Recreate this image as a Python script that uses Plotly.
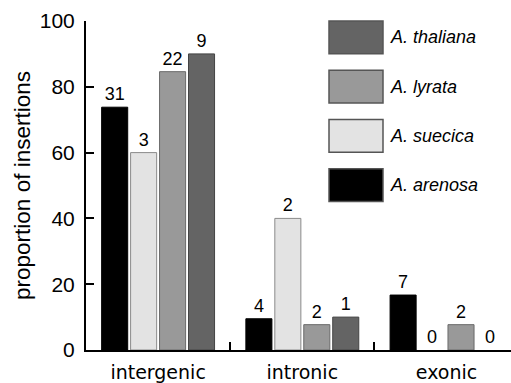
import plotly.graph_objects as go

categories = ["intergenic", "intronic", "exonic"]
species = ["A. arenosa", "A. suecica", "A. lyrata", "A. thaliana"]
# proportion of insertions (%) per species, per category
arenosa = [73.8, 9.5, 16.7]
suecica = [60.0, 40.0, 0.0]
lyrata = [84.6, 7.7, 7.7]
thaliana = [90.0, 10.0, 0.0]
# number of insertions (labels above bars)
arenosa_n = [31, 4, 7]
suecica_n = [3, 2, 0]
lyrata_n = [22, 2, 2]
thaliana_n = [9, 1, 0]
y_ticks = [0, 20, 40, 60, 80, 100]

values = [arenosa, suecica, lyrata, thaliana]
counts = [arenosa_n, suecica_n, lyrata_n, thaliana_n]
fills = ["#000000", "#e3e3e3", "#999999", "#646464"]
edges = ["#000000", "#8a8a8a", "#6a6a6a", "#444444"]

fig = go.Figure()
for name, v, n, fc, ec in zip(species, values, counts, fills, edges):
    fig.add_trace(go.Bar(
        x=categories, y=v, name=name,
        marker=dict(color=fc, line=dict(color=ec, width=[1 if a > 0 else 0 for a in v])),
        text=[str(c) for c in n], textposition="outside",
        textfont=dict(family="Liberation Sans, Arial", size=18, color="#000"),
        cliponaxis=False, showlegend=False,
    ))

# custom legend (top to bottom: thaliana, lyrata, suecica, arenosa)
W, H = 511, 383
ml, mr, mt, mb = 86, 0, 21, 30
legend_order = [3, 2, 1, 0]
for i, k in enumerate(legend_order):
    top = 21 + i * 49.7
    fig.add_shape(type="rect", xref="paper", yref="paper",
                  x0=(329 - ml) / (W - ml - mr), x1=(383 - ml) / (W - ml - mr),
                  y0=1 - (top - mt) / (H - mt - mb),
                  y1=1 - (top + 33 - mt) / (H - mt - mb),
                  fillcolor=fills[k], line=dict(color="#555555", width=1.5))
    fig.add_annotation(xref="paper", yref="paper",
                       x=(388 - ml) / (W - ml - mr),
                       y=1 - (top + 16.5 - mt) / (H - mt - mb),
                       text="<i>%s</i>" % species[k], showarrow=False,
                       xanchor="left", yanchor="middle",
                       font=dict(family="Liberation Sans, Arial", size=18, color="#000"))

fig.update_layout(
    width=W, height=H,
    margin=dict(l=ml, r=mr, t=mt, b=mb),
    paper_bgcolor="white", plot_bgcolor="white",
    barmode="group", bargap=0.197, bargroupgap=0.1,
    font=dict(family="Liberation Sans, Arial", color="#000"),
)
fig.update_xaxes(
    range=[-0.5, 2.447], showline=True, linecolor="#000", linewidth=2,
    ticks="inside", tickson="boundaries", ticklen=8, tickwidth=2, tickcolor="#000",
    tickfont=dict(family="DejaVu Sans", size=19), ticklabelstandoff=4,
    showgrid=False, zeroline=False,
)
fig.update_yaxes(
    range=[0, 100], tickvals=y_ticks, showline=True, linecolor="#000", linewidth=2,
    ticks="inside", ticklen=8, tickwidth=2, tickcolor="#000",
    tickfont=dict(family="Liberation Sans, Arial", size=21), ticklabelstandoff=5,
    showgrid=False, zeroline=False,
    title=dict(text="proportion of insertions", font=dict(family="Liberation Sans, Arial", size=22.5), standoff=3),
)
fig.write_html("out.html")
